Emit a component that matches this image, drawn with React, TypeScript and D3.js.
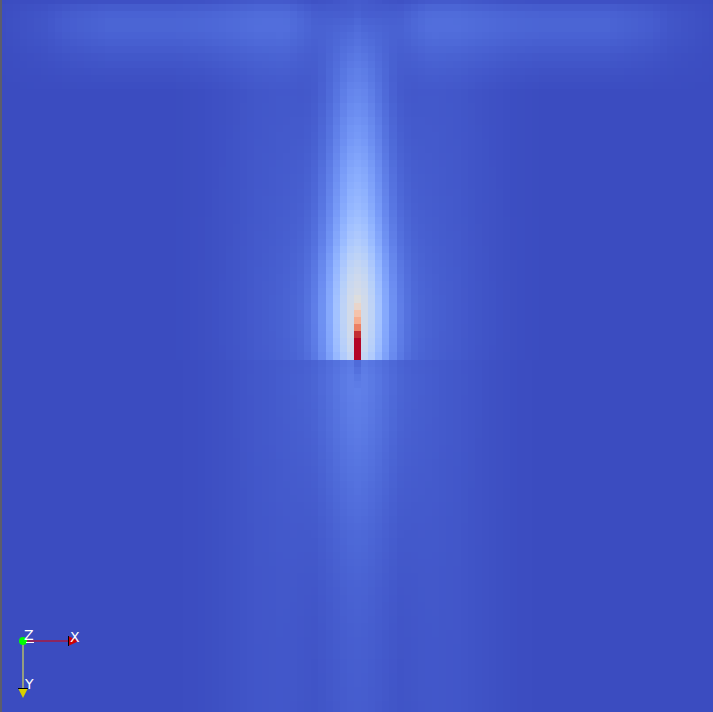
import React, { useEffect, useRef } from "react";
import * as d3 from "d3";

// field sampled on a 101 x 101 point grid, values normalised to [0, 1]
const GRID = 101;
const CENTER = 50;

// core of the upper plume along the centre column, rows 0..50
const upperCore = [
  0.03, 0.03, 0.035, 0.045, 0.055, 0.065, 0.075, 0.085, 0.095, 0.105,
  0.115, 0.12, 0.13, 0.14, 0.145, 0.155, 0.16, 0.17, 0.18, 0.185,
  0.195, 0.205, 0.215, 0.225, 0.235, 0.245, 0.255, 0.265, 0.275, 0.285,
  0.295, 0.31, 0.325, 0.34, 0.355, 0.375, 0.395, 0.41, 0.425, 0.44,
  0.455, 0.465, 0.475, 0.48, 0.48, 0.48, 0.475, 0.47, 0.46, 0.45,
  0.43,
];

// hot spot on the centre column, rows 42..50
const spotValues = [0.5, 0.55, 0.63, 0.7, 0.81, 0.96, 1, 1, 1];

// core of the lower plume, rows 51..100
const lowerCore = [
  0.11, 0.115, 0.12, 0.12, 0.12, 0.118, 0.116, 0.114, 0.112, 0.11,
  0.107, 0.104, 0.101, 0.098, 0.095, 0.092, 0.089, 0.086, 0.083, 0.08,
  0.077, 0.074, 0.071, 0.068, 0.066, 0.064, 0.062, 0.06, 0.058, 0.056,
  0.054, 0.052, 0.05, 0.049, 0.048, 0.047, 0.046, 0.045, 0.044, 0.043,
  0.042, 0.042, 0.041, 0.041, 0.04, 0.04, 0.039, 0.039, 0.038, 0.038,
];

// darker wake right under the spot, centre column rows 51..54
const wakeCenter = [0.07, 0.085, 0.1, 0.11];

// lateral falloff by column distance from centre
const upperFalloff = [
  1, 0.95, 0.82, 0.65, 0.48, 0.34, 0.24, 0.17, 0.12, 0.09,
  0.07, 0.055, 0.045, 0.037, 0.03, 0.025, 0.02, 0.016, 0.013, 0.01,
  0.008, 0.006, 0.004, 0.003, 0.002, 0.001,
];
const lowerFalloff = [
  1, 0.96, 0.88, 0.78, 0.67, 0.56, 0.46, 0.37, 0.29, 0.22,
  0.17, 0.13, 0.1, 0.077, 0.06, 0.046, 0.035, 0.026, 0.019, 0.013,
  0.009, 0.006, 0.004, 0.002, 0.001,
];

// lighter band along the top wall, rows 0..12
const topBand = [0.01, 0.035, 0.05, 0.055, 0.055, 0.05, 0.042, 0.034, 0.026, 0.02, 0.014, 0.009, 0.005];
const bandShape = [
  0.3, 0.2, 0.25, 0.35, 0.45, 0.55, 0.65, 0.75, 0.85, 0.92,
  1, 1, 1, 1, 1, 1, 1, 1, 1, 1,
  1, 1, 1, 1, 1, 1, 1, 1, 1, 1,
  1, 1, 1, 1, 1, 1, 0.95, 0.9, 0.85, 0.8,
  0.75, 0.7, 0.6, 0.5, 0.4, 0.35, 0.3, 0.25, 0.2, 0.15,
  0.1,
];

// faint far-field halo either side of the plume
const halo = [
  0, 0, 0, 0, 0, 0, 0, 0.005, 0.01, 0.015,
  0.018, 0.02, 0.02, 0.02, 0.02, 0.018, 0.016, 0.014, 0.012, 0.01,
  0.008, 0.006, 0.004, 0.003, 0.002, 0.001,
];

// Moreland cool-to-warm map
const coolWarm = [
  "#3b4cc0", "#445acc", "#4d68d7", "#5775e1", "#6282ea", "#6c8ef1", "#779af7", "#82a5fb",
  "#8db0fe", "#98b9ff", "#a3c2ff", "#aec9fd", "#b8d0f9", "#c2d5f4", "#ccd9ee", "#d5dbe6",
  "#dddddd", "#e5d8d1", "#ecd3c5", "#f1ccb9", "#f5c4ad", "#f7bba0", "#f7b194", "#f7a687",
  "#f49a7b", "#f18d6f", "#ec7f63", "#e57058", "#de604d", "#d55042", "#cb3e38", "#c0282f",
  "#b40426",
];

function at(arr: number[], i: number) {
  return i < arr.length ? arr[i] : 0;
}

function fieldValue(r: number, c: number) {
  const d = Math.abs(c - CENTER);
  const band = r < topBand.length ? topBand[r] * bandShape[d] : 0;
  if (r <= CENTER) {
    let v = band + upperCore[r] * at(upperFalloff, d) + at(halo, d);
    if (d === 0 && r >= 42) v = Math.max(v, spotValues[r - 42]);
    return v;
  }
  const k = r - 51;
  if (d === 0 && k < wakeCenter.length) return wakeCenter[k];
  return lowerCore[k] * at(lowerFalloff, d) + at(halo, d);
}

export default function App() {
  const svgRef = useRef<SVGSVGElement>(null);
  const width = 713;
  const height = 712;

  useEffect(() => {
    if (!svgRef.current) return;
    const svg = d3.select(svgRef.current);
    svg.selectAll("*").remove();

    const x = d3.scaleLinear().domain([0, GRID - 1]).range([2, width]);
    const y = d3.scaleLinear().domain([0, GRID - 1]).range([0, height]);
    const color = d3
      .scaleLinear<string>()
      .domain(coolWarm.map((_, i) => i / (coolWarm.length - 1)))
      .range(coolWarm)
      .interpolate(d3.interpolateRgb)
      .clamp(true);

    const cells: { r: number; c: number; v: number }[] = [];
    for (let r = 0; r < GRID; r++) {
      for (let c = 0; c < GRID; c++) cells.push({ r, c, v: fieldValue(r, c) });
    }

    const hx = (x(1) - x(0)) / 2;
    const hy = (y(1) - y(0)) / 2;

    svg
      .append("g")
      .attr("shape-rendering", "crispEdges")
      .selectAll("rect")
      .data(cells)
      .join("rect")
      .attr("x", (d) => Math.max(2, x(d.c) - hx))
      .attr("y", (d) => Math.max(0, y(d.r) - hy))
      .attr("width", (d) => Math.min(width, x(d.c) + hx) - Math.max(2, x(d.c) - hx) + 0.5)
      .attr("height", (d) => Math.min(height, y(d.r) + hy) - Math.max(0, y(d.r) - hy) + 0.5)
      .attr("fill", (d) => color(d.v));

    // window border on the left
    svg.append("rect").attr("x", 0).attr("y", 0).attr("width", 2).attr("height", height).attr("fill", "#5c5d6b");

    // orientation axes
    const ax = svg.append("g");
    const ox = 23;
    const oy = 641;
    ax.append("line").attr("x1", ox).attr("y1", oy).attr("x2", 70).attr("y2", oy).attr("stroke", "#e00000").attr("stroke-width", 1);
    ax.append("line").attr("x1", ox).attr("y1", oy).attr("x2", ox).attr("y2", 689).attr("stroke", "#f0f040").attr("stroke-width", 1);
    ax.append("path").attr("d", "M68,636 L79,641 L68,646 Z").attr("fill", "#d00000");
    ax.append("line").attr("x1", 68.5).attr("y1", 636).attr("x2", 68.5).attr("y2", 646).attr("stroke", "#000");
    ax.append("path").attr("d", "M18,688 L28,688 L23,698 Z").attr("fill", "#d8d000");
    ax.append("line").attr("x1", 18).attr("y1", 688.5).attr("x2", 28).attr("y2", 688.5).attr("stroke", "#000");
    ax.append("circle").attr("cx", ox).attr("cy", oy).attr("r", 4).attr("fill", "#00ff00");
    ax.append("line").attr("x1", 26).attr("y1", 642.5).attr("x2", 34).attr("y2", 642.5).attr("stroke", "#fff");

    const label = (t: string, lx: number, ly: number) =>
      ax
        .append("text")
        .attr("x", lx)
        .attr("y", ly)
        .attr("fill", "#fff")
        .attr("font-family", "DejaVu Sans, sans-serif")
        .attr("font-size", "14px")
        .text(t);
    label("Z", 24, 640);
    label("X", 70, 642);
    label("Y", 25, 689);
  }, []);

  return (
    <svg
      ref={svgRef}
      width={width}
      height={height}
      style={{ position: "fixed", left: 0, top: 0, background: "#3b4cc0" }}
    />
  );
}
